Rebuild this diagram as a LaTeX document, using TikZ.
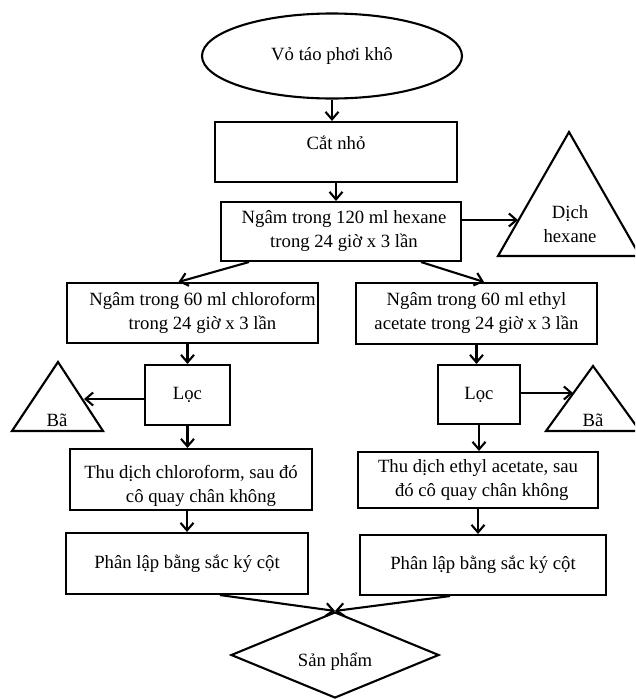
\documentclass[tikz,border=0pt]{standalone}
\usepackage{fontspec}
\setmainfont{Liberation Serif}
\usetikzlibrary{arrows.meta,shapes.geometric}
\begin{document}
\begin{tikzpicture}[x=1pt,y=-1pt,
  every node/.style={font=\fontsize{18.7}{24}\selectfont},
  box/.style={draw,line width=2.1pt,rectangle,inner sep=0pt,align=center},
  arr/.style={line width=2.1pt,-{Straight Barb[length=7.5pt,width=13pt]}},
  shp/.style={draw,line width=2.1pt,line join=miter}]
\clip (0,0) rectangle (635,699);
% nodes
\node[shp,ellipse,minimum width=260pt,minimum height=85pt,inner sep=0pt] (vo) at (332,56) {Vỏ táo phơi khô};
\node[box,minimum width=242pt,minimum height=60pt,text height=14pt,text depth=19pt] (cat) at (336,152) {Cắt nhỏ};
\node[box,minimum width=240pt,minimum height=59pt] (hex) at (341,231.5) {\hspace*{6pt}Ngâm trong 120 ml hexane\\\hspace*{6pt}trong 24 giờ x 3 lần};
\node[box,minimum width=251pt,minimum height=60pt] (chl) at (192.5,313) {\hspace*{20pt}Ngâm trong 60 ml chloroform\\\hspace*{20pt}trong 24 giờ x 3 lần};
\node[box,minimum width=241pt,minimum height=61pt] (eth) at (476.5,313.5) {Ngâm trong 60 ml ethyl\\acetate trong 24 giờ x 3 lần};
\node[box,minimum width=85pt,minimum height=60pt] (loc1) at (187.5,395) {Lọc};
\node[box,minimum width=82pt,minimum height=59pt] (loc2) at (479,394.5) {Lọc};
\node[box,minimum width=242pt,minimum height=61pt] (thc) at (191,479.5) {\rule{0pt}{26pt}Thu dịch chloroform, sau đó\\\hspace*{20pt}cô quay chân không};
\node[box,minimum width=240pt,minimum height=56pt,align=left] (the) at (478,480) {Thu dịch ethyl acetate, sau\\\hspace*{17pt}đó cô quay chân không};
\node[box,minimum width=242pt,minimum height=61pt] (pl1) at (187,563.5) {Phân lập bằng sắc ký cột};
\node[box,minimum width=246pt,minimum height=60pt] (pl2) at (483,565) {Phân lập bằng sắc ký cột};
\node[shp,diamond,shape aspect=2.4,minimum width=208pt,minimum height=86pt,inner sep=0pt,text height=24pt,text depth=2pt] (sp) at (335,655) {Sản phẩm};
% triangles
\draw[shp] (569,132) -- (640,256) -- (498,256) -- cycle;
\node[align=center] (dhtext) at (570,224) {Dịch\\hexane};
\coordinate (dhl) at (518,220);
\draw[shp] (58,362) -- (103,431) -- (12,431) -- cycle;
\node (ba1text) at (57,420) {Bã};
\coordinate (ba1t) at (84,399);
\draw[shp] (593,366) -- (640,431) -- (546,431) -- cycle;
\node (ba2text) at (593,420) {Bã};
\coordinate (ba2t) at (573,393);
% connectors
\draw[arr] (vo.south) -- (vo.south |- cat.north);
\draw[arr] (cat.south) -- (cat.south |- hex.north);
\draw[arr] ([yshift=11.5pt]hex.east) -- (dhl);
\draw[arr] ([xshift=29pt]hex.south west) -- ([xshift=-14pt]chl.north);
\draw[arr] ([xshift=-41pt]hex.south east) -- ([xshift=7.5pt]eth.north);
\draw[arr] (chl.south -| loc1.north) -- (loc1.north);
\draw[arr] ([yshift=-4pt]loc1.west) -- (ba1t);
\draw[arr] (loc1.south) -- (loc1.south |- thc.north);
\draw[arr] (eth.south) -- (eth.south |- loc2.north);
\draw[arr] ([yshift=1.5pt]loc2.east) -- (ba2t);
\draw[arr] (loc2.south) -- (loc2.south |- the.north);
\draw[arr] (thc.south -| pl1.north) -- (pl1.north);
\draw[arr] (the.south) -- (the.south |- pl2.north);
\draw[arr] ([xshift=33pt]pl1.south) -- (sp.north);
\draw[arr] ([xshift=-33pt]pl2.south) -- (sp.north);
\end{tikzpicture}
\end{document}
